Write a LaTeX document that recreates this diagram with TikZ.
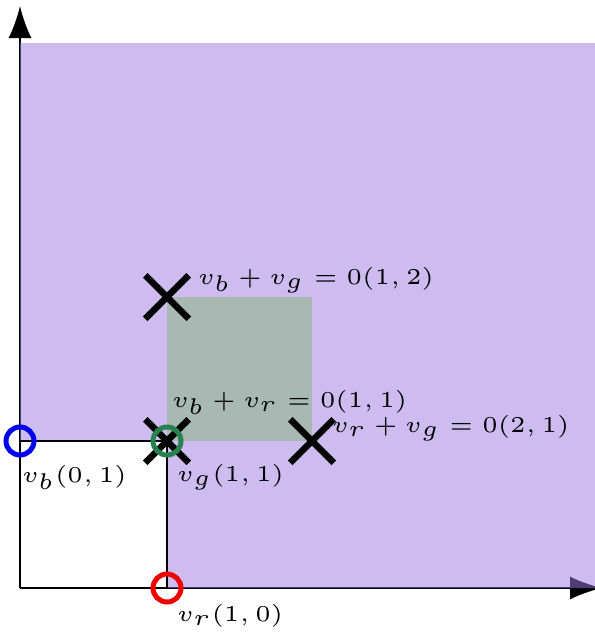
\documentclass[tikz,border=0pt]{standalone}
\usetikzlibrary{arrows.meta,shapes.misc}
\definecolor{purp}{RGB}{157,122,225}
\definecolor{sqgreen}{RGB}{168,184,178}
\definecolor{ringblue}{RGB}{0,0,240}
\definecolor{ringred}{RGB}{240,0,0}
\definecolor{ringgreen}{RGB}{40,130,80}
\tikzset{
  axis/.style={line width=1.8pt,-{Latex[length=32pt,width=23pt]}},
  edge/.style={line width=1.5pt},
  xmark/.style={cross out,draw=black,line width=6.5pt,minimum size=37pt,inner sep=0pt},
  ring/.style={circle,draw,line width=5pt,minimum size=28pt,inner sep=0pt},
  lab/.style={anchor=base west,inner sep=0pt,font=\tiny,scale=4.55}
}
\begin{document}
\begin{tikzpicture}[x=1pt,y=-1pt]
\useasboundingbox (0,0) rectangle (595,633);
\coordinate (O) at (20,588);
\coordinate (xend) at (602,588);
\coordinate (yend) at (20,6);
\coordinate (p01) at (20,441);
\coordinate (p10) at (167,588);
\coordinate (p11) at (167,441);
\coordinate (p12) at (167,297);
\coordinate (p21) at (312,441);
\draw[axis] (O) -- (xend);
\draw[axis] (O) -- (yend);
\fill[purp,opacity=0.5] (20,43) -- (595,43) -- (595,588) -- (p10) -- (p11) -- (p01) -- cycle;
\fill[sqgreen] (p11) rectangle (312,297);
\draw[edge] (p01) -- (p11) -- (p10);
\node[xmark] (c12) at (p12) {};
\node[xmark] (c11) at (p11) {};
\node[xmark] (c21) at (p21) {};
\node[ring,draw=ringblue] (vb) at (p01) {};
\node[ring,draw=ringred] (vr) at (p10) {};
\node[ring,draw=ringgreen] (vg) at (p11) {};
\node[lab] (l12) at (197,284) {$v_b + v_g = 0(1, 2)$};
\node[lab] (l11) at (171,407) {$v_b + v_r = 0(1, 1)$};
\node[lab] (l21) at (331,432) {$v_r + v_g = 0(2, 1)$};
\node[lab] (lg) at (176,481) {$v_g(1, 1)$};
\node[lab] (lb) at (21,482) {$v_b(0, 1)$};
\node[lab] (lr) at (176,621) {$v_r(1, 0)$};
\end{tikzpicture}
\end{document}
